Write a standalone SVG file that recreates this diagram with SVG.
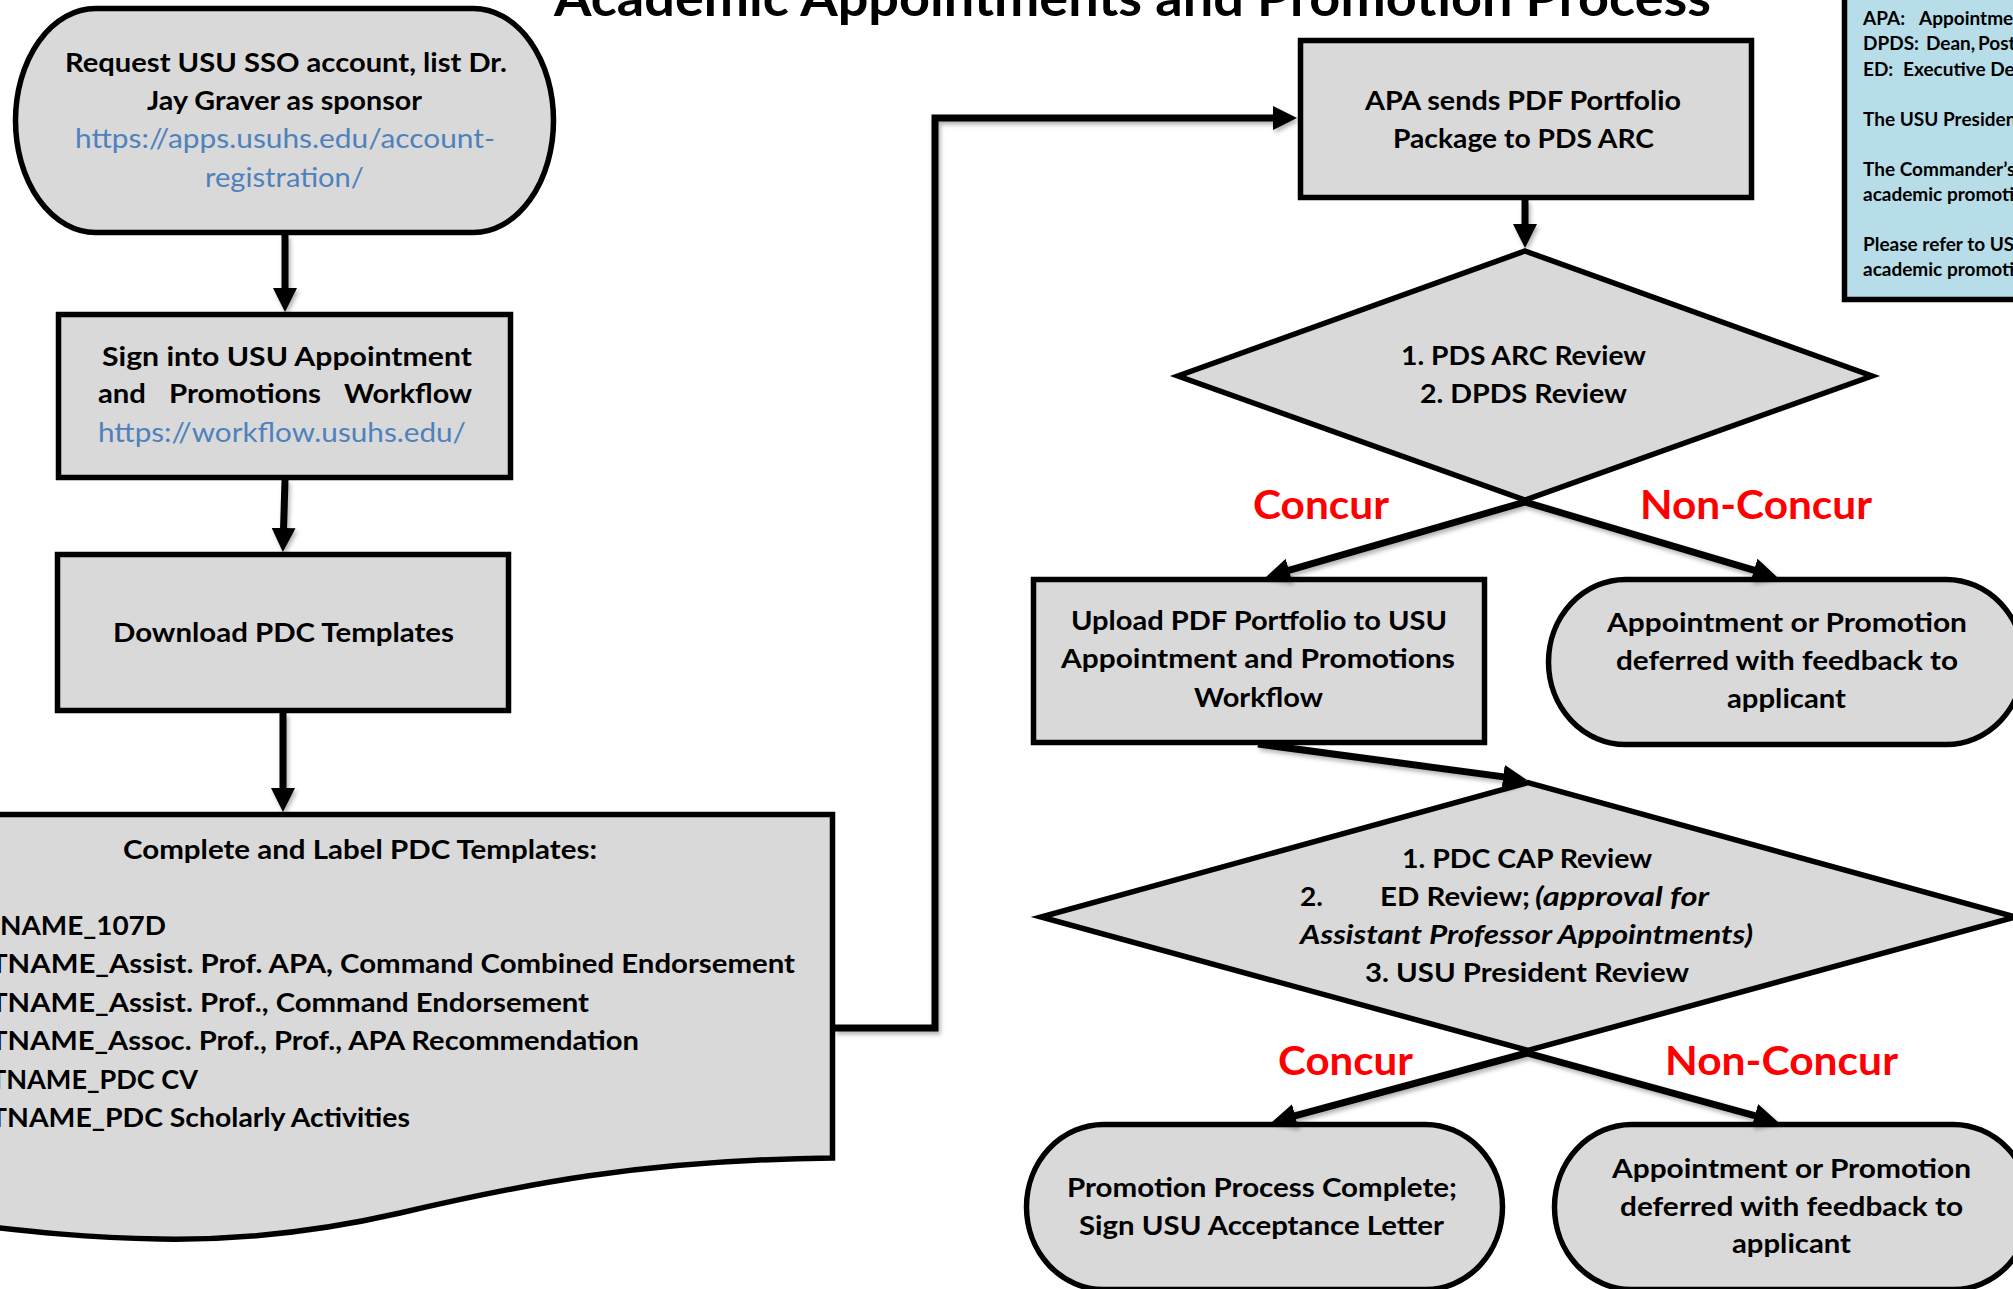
<svg xmlns="http://www.w3.org/2000/svg" width="2013" height="1289" viewBox="0 0 2013 1289">
<style>
.node{fill:#d9d9d9;stroke:#000;stroke-width:5.5;stroke-linejoin:miter}
.legend{fill:#b7dde8;stroke:#000;stroke-width:5.5}
.t{font-family:Lato,"Liberation Sans",sans-serif;font-weight:700;font-size:27px;fill:#000}
.url{font-weight:400;fill:#4f81bd}
.it{font-style:italic}
.lbl{font-size:40px;fill:#ff0000}
.lg{font-family:Lato,"Liberation Sans",sans-serif;font-weight:700;font-size:19px;fill:#000}
.title{font-family:Lato,"Liberation Sans",sans-serif;font-weight:700;font-size:52px;fill:#000}
.conn{fill:none;stroke:#000;stroke-width:7;stroke-linejoin:miter;marker-end:url(#ah)}
</style>
<defs>
<marker id="ah" viewBox="0 0 24 24" refX="12" refY="12" markerWidth="24" markerHeight="24" markerUnits="userSpaceOnUse" orient="auto">
<path d="M0,0 L24,12 L0,24 Z" fill="#000"/>
</marker>
<filter id="sh" x="-5%" y="-5%" width="110%" height="110%">
<feDropShadow dx="2" dy="3" stdDeviation="2" flood-color="#000" flood-opacity="0.3"/>
</filter>
</defs>
<rect width="2013" height="1289" fill="#fff"/>

<text class="title" x="554" y="16" textLength="1157" lengthAdjust="spacingAndGlyphs">Academic Appointments and Promotion Process</text>

<g id="legend">
<rect class="legend" x="1844.5" y="-20" width="200" height="319.5"/>
<text class="lg" x="1863" y="25">APA:<tspan x="1919">Appointments</tspan></text>
<text class="lg" x="1863" y="50">DPDS:<tspan x="1926">Dean,</tspan><tspan x="1978">Postgraduate</tspan></text>
<text class="lg" x="1863" y="76">ED:<tspan x="1903">Executive Dean</tspan></text>
<text class="lg" x="1863" y="126">The USU President</text>
<text class="lg" x="1863" y="176">The Commander’s</text>
<text class="lg" x="1863" y="201">academic promotion</text>
<text class="lg" x="1863" y="251">Please refer to USU</text>
<text class="lg" x="1863" y="276">academic promotion</text>
</g>

<g id="n-request">
<rect class="node" x="15.5" y="8.5" width="538" height="224" rx="80" ry="112"/>
<text class="t" x="65" y="72" textLength="442" lengthAdjust="spacingAndGlyphs">Request USU SSO account, list Dr.</text>
<text class="t" x="147" y="110" textLength="275" lengthAdjust="spacingAndGlyphs">Jay Graver as sponsor</text>
<text class="t url" x="75" y="148" textLength="420" lengthAdjust="spacingAndGlyphs">https://apps.usuhs.edu/account-</text>
<text class="t url" x="205" y="187" textLength="159" lengthAdjust="spacingAndGlyphs">registration/</text>
</g>

<g id="n-signin">
<rect class="node" x="58.5" y="314.5" width="452" height="163"/>
<text class="t" x="102" y="366" textLength="370" lengthAdjust="spacingAndGlyphs">Sign into USU Appointment</text>
<text class="t" x="98" y="403" textLength="48" lengthAdjust="spacingAndGlyphs">and</text>
<text class="t" x="169" y="403" textLength="152" lengthAdjust="spacingAndGlyphs">Promotions</text>
<text class="t" x="344" y="403" textLength="128" lengthAdjust="spacingAndGlyphs">Workflow</text>
<text class="t url" x="98" y="442" textLength="368" lengthAdjust="spacingAndGlyphs">https://workflow.usuhs.edu/</text>
</g>

<g id="n-download">
<rect class="node" x="57.5" y="554.5" width="451" height="156"/>
<text class="t" x="113" y="642" textLength="341" lengthAdjust="spacingAndGlyphs">Download PDC Templates</text>
</g>

<g id="n-complete">
<path class="node" d="M-50,814.5 H832.5 V1158 C640,1160 520,1185 400,1213 C300,1236 220,1240 160,1239 C90,1238 30,1232 -50,1222 Z"/>
<text class="t" x="123" y="859" textLength="474" lengthAdjust="spacingAndGlyphs">Complete and Label PDC Templates:</text>
<text class="t" x="0" y="935" textLength="166" lengthAdjust="spacingAndGlyphs">NAME_107D</text>
<text class="t" x="-10" y="973" textLength="805" lengthAdjust="spacingAndGlyphs">TNAME_Assist. Prof. APA, Command Combined Endorsement</text>
<text class="t" x="-10" y="1012" textLength="599" lengthAdjust="spacingAndGlyphs">TNAME_Assist. Prof., Command Endorsement</text>
<text class="t" x="-10" y="1050" textLength="649" lengthAdjust="spacingAndGlyphs">TNAME_Assoc. Prof., Prof., APA Recommendation</text>
<text class="t" x="-10" y="1089" textLength="208" lengthAdjust="spacingAndGlyphs">TNAME_PDC CV</text>
<text class="t" x="-10" y="1127" textLength="420" lengthAdjust="spacingAndGlyphs">TNAME_PDC Scholarly Activities</text>
</g>

<g id="n-apa">
<rect class="node" x="1300.5" y="40.5" width="451" height="157"/>
<text class="t" x="1365" y="110" textLength="316" lengthAdjust="spacingAndGlyphs">APA sends PDF Portfolio</text>
<text class="t" x="1393" y="148" textLength="261" lengthAdjust="spacingAndGlyphs">Package to PDS ARC</text>
</g>

<g id="n-review1">
<polygon class="node" points="1525,251 1872,376 1525,500 1178,376"/>
<text class="t" x="1401" y="365" textLength="245" lengthAdjust="spacingAndGlyphs">1. PDS ARC Review</text>
<text class="t" x="1420" y="403" textLength="207" lengthAdjust="spacingAndGlyphs">2. DPDS Review</text>
</g>

<g id="n-upload">
<rect class="node" x="1033.5" y="579.5" width="451" height="163"/>
<text class="t" x="1071" y="630" textLength="376" lengthAdjust="spacingAndGlyphs">Upload PDF Portfolio to USU</text>
<text class="t" x="1061" y="668" textLength="394" lengthAdjust="spacingAndGlyphs">Appointment and Promotions</text>
<text class="t" x="1194" y="707" textLength="129" lengthAdjust="spacingAndGlyphs">Workflow</text>
</g>

<g id="n-deferred1">
<rect class="node" x="1548.5" y="579.5" width="475" height="165" rx="77" ry="82.5"/>
<text class="t" x="1607" y="632" textLength="360" lengthAdjust="spacingAndGlyphs">Appointment or Promotion</text>
<text class="t" x="1616" y="670" textLength="342" lengthAdjust="spacingAndGlyphs">deferred with feedback to</text>
<text class="t" x="1727" y="708" textLength="119" lengthAdjust="spacingAndGlyphs">applicant</text>
</g>

<g id="n-review2">
<polygon class="node" points="1528,782.6 2015,917 1528,1050.4 1041,917"/>
<text class="t" x="1402" y="868" textLength="250" lengthAdjust="spacingAndGlyphs">1. PDC CAP Review</text>
<text class="t" x="1300" y="906" textLength="23" lengthAdjust="spacingAndGlyphs">2.</text>
<text class="t" x="1380" y="906" textLength="150" lengthAdjust="spacingAndGlyphs">ED Review;</text>
<text class="t it" x="1535" y="906" textLength="174" lengthAdjust="spacingAndGlyphs">(approval for</text>
<text class="t it" x="1300" y="944" textLength="453" lengthAdjust="spacingAndGlyphs">Assistant Professor Appointments)</text>
<text class="t" x="1365" y="982" textLength="324" lengthAdjust="spacingAndGlyphs">3. USU President Review</text>
</g>

<g id="n-complete-final">
<rect class="node" x="1026.5" y="1124.5" width="476" height="165" rx="77" ry="82.5"/>
<text class="t" x="1067" y="1197" textLength="390" lengthAdjust="spacingAndGlyphs">Promotion Process Complete;</text>
<text class="t" x="1079" y="1235" textLength="365" lengthAdjust="spacingAndGlyphs">Sign USU Acceptance Letter</text>
</g>

<g id="n-deferred2">
<rect class="node" x="1554.5" y="1124.5" width="476" height="165" rx="77" ry="82.5"/>
<text class="t" x="1612" y="1178" textLength="359" lengthAdjust="spacingAndGlyphs">Appointment or Promotion</text>
<text class="t" x="1620" y="1216" textLength="343" lengthAdjust="spacingAndGlyphs">deferred with feedback to</text>
<text class="t" x="1732" y="1253" textLength="119" lengthAdjust="spacingAndGlyphs">applicant</text>
</g>

<g id="connectors" filter="url(#sh)">
<path class="conn" d="M285,235 L285,300"/>
<path class="conn" d="M285,480 L283.2,540"/>
<path class="conn" d="M283,713 L283,800"/>
<path class="conn" d="M835,1028 H935 V118 H1285"/>
<path class="conn" d="M1525,200 L1525,236"/>
<path class="conn" d="M1525,502 L1277.5,573.7"/>
<path class="conn" d="M1525,502 L1765.5,573.6"/>
<path class="conn" d="M1258,744 L1515.1,778.4"/>
<path class="conn" d="M1527,1053 L1283.6,1118.9"/>
<path class="conn" d="M1527,1053 L1766.4,1118.8"/>
</g>

<g id="labels">
<text class="t lbl" x="1253" y="519" textLength="136" lengthAdjust="spacingAndGlyphs">Concur</text>
<text class="t lbl" x="1640" y="519" textLength="232" lengthAdjust="spacingAndGlyphs">Non-Concur</text>
<text class="t lbl" x="1278" y="1075" textLength="135" lengthAdjust="spacingAndGlyphs">Concur</text>
<text class="t lbl" x="1665" y="1075" textLength="233" lengthAdjust="spacingAndGlyphs">Non-Concur</text>
</g>
</svg>
